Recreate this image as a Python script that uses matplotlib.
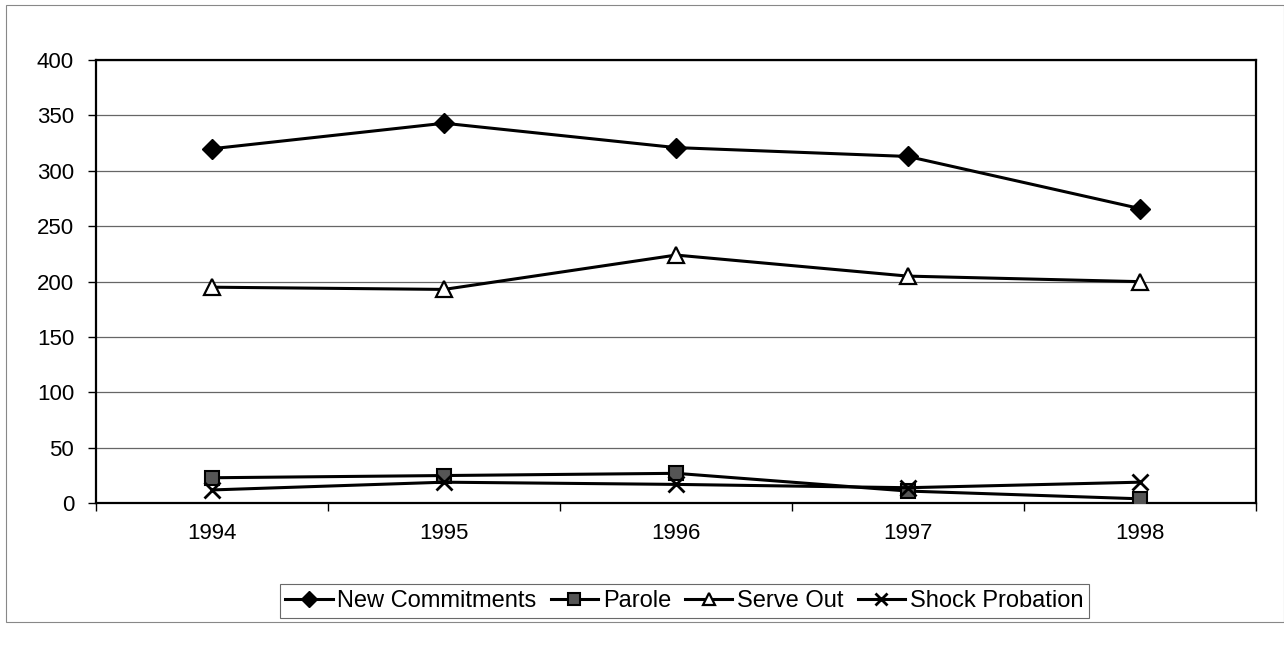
import numpy as np
import matplotlib.pyplot as plt
from matplotlib.patches import Rectangle

plt.rcParams['font.family'] = ['Liberation Sans', 'DejaVu Sans']

# yearly counts by release type
years = ['1994', '1995', '1996', '1997', '1998']
new_commitments = [320, 343, 321, 313, 266]
parole = [23, 25, 27, 11, 4]
serve_out = [195, 193, 224, 205, 200]
shock_probation = [12, 19, 17, 14, 19]

fig = plt.figure(figsize=(12.84, 6.46), dpi=100)
ax = fig.add_axes([0.075, 0.221, 0.903, 0.686])

x = np.arange(len(years))
ax.plot(x, new_commitments, color='black', lw=2.2, marker='D', ms=10,
        mfc='black', mec='black', label='New Commitments', zorder=4)
ax.plot(x, parole, color='black', lw=2.2, marker='s', ms=10,
        mfc='#555555', mec='black', mew=1.5, label='Parole', zorder=3)
ax.plot(x, serve_out, color='black', lw=2.2, marker='^', ms=11,
        mfc='white', mec='black', mew=1.6, label='Serve Out', zorder=4)
ax.plot(x, shock_probation, color='black', lw=2.2, marker='x', ms=11,
        mec='black', mew=2, label='Shock Probation', zorder=3)

ax.set_xlim(-0.5, len(years) - 0.5)
ax.set_ylim(0, 400)
ax.set_yticks(range(0, 401, 50))
ax.yaxis.grid(True, color='#666666', lw=0.9)
ax.set_axisbelow(True)

# year labels centred, tick marks between categories
ax.set_xticks(x)
ax.set_xticklabels(years)
ax.set_xticks(np.arange(-0.5, len(years)), minor=True)
ax.tick_params(axis='x', which='major', length=0, pad=14, labelsize=16)
ax.tick_params(axis='x', which='minor', length=6, width=1, direction='out')
ax.tick_params(axis='y', length=6, width=1, labelsize=16, pad=10)

for side in ax.spines.values():
    side.set_linewidth(1.6)

ax.legend(loc='center', bbox_to_anchor=(0.533, 0.07), bbox_transform=fig.transFigure,
          ncol=4, frameon=True, fancybox=False, edgecolor='#444444',
          fontsize=17, handlelength=2.0, handletextpad=0.2, columnspacing=0.6,
          markerscale=0.8, borderpad=0.25, borderaxespad=0)
ax.get_legend().get_frame().set_linewidth(0.8)

# outer chart border
fig.patches.append(Rectangle((0.005, 0.037), 0.995, 0.955, transform=fig.transFigure,
                             fill=False, edgecolor='#888888', lw=0.8))

fig.savefig('out.png', dpi=100)
